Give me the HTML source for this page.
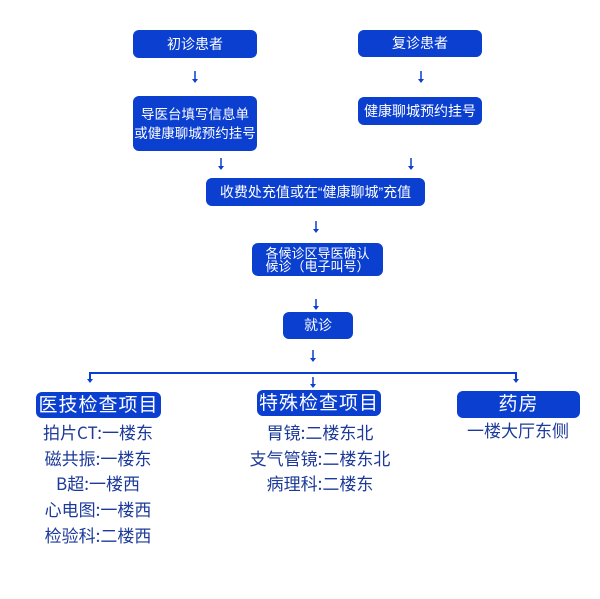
<!DOCTYPE html>
<html><head><meta charset="utf-8"><style>
body{margin:0;width:600px;height:599px;background:#fff;position:relative;overflow:hidden;font-family:"Liberation Sans","Noto Sans CJK SC",sans-serif}
.b{position:absolute;background:#0b3fd0;color:#fff;border-radius:6px;display:flex;align-items:center;justify-content:center;text-align:center;font-size:14px;line-height:17px;white-space:nowrap}
.h{font-size:19px;letter-spacing:1px}
.t{position:absolute;color:#1c3a9a;font-size:17px;text-align:center;line-height:25.7px;font-family:"Noto Sans CJK SC",sans-serif}
svg{position:absolute;left:0;top:0}
</style></head><body>
<svg width="600" height="599">
<g stroke="#0b3fd0" stroke-width="2" fill="none">
<path d="M90 380V373H516V380"/>
</g>
<g stroke="#0b3fd0" stroke-width="1.5">
<line x1="195" y1="71" x2="195" y2="81"/><line x1="421" y1="71" x2="421" y2="81"/>
<line x1="221" y1="158" x2="221" y2="168"/><line x1="411" y1="158" x2="411" y2="168"/>
<line x1="316" y1="221" x2="316" y2="231"/>
<line x1="316" y1="299" x2="316" y2="308"/>
<line x1="313" y1="350" x2="313" y2="360"/>
<line x1="313" y1="377" x2="313" y2="386"/>
</g>
<g fill="#0b3fd0">
<path d="M192 79h6l-3 4z"/><path d="M418 79h6l-3 4z"/>
<path d="M218 166h6l-3 4z"/><path d="M408 166h6l-3 4z"/>
<path d="M313 229h6l-3 4z"/><path d="M313 306h6l-3 4z"/>
<path d="M310 358h6l-3 4z"/><path d="M310 384h6l-3 4z"/>
<path d="M87 379h6l-3 4z"/><path d="M513 379h6l-3 4z"/>
</g>
</svg>
<div class="b" style="left:133px;top:30px;width:124px;height:28px">初诊患者</div>
<div class="b" style="left:358px;top:30px;width:124px;height:27px">复诊患者</div>
<div class="b" style="left:133px;top:96px;width:124px;height:55px;line-height:19px;font-size:13.5px">导医台填写信息单<br>或健康聊城预约挂号</div>
<div class="b" style="left:358px;top:97px;width:124px;height:28px">健康聊城预约挂号</div>
<div class="b" style="left:206px;top:178px;width:219px;height:28px">收费处充值或在“健康聊城”充值</div>
<div class="b" style="left:252px;top:243px;width:131px;height:33px;line-height:13px;font-size:13px">各候诊区导医确认<br>候诊（电子叫号）</div>
<div class="b" style="left:283px;top:312px;width:70px;height:27px">就诊</div>
<div class="b h" style="left:36px;top:392px;width:125px;height:26px">医技检查项目</div>
<div class="b h" style="left:257px;top:390px;width:124px;height:26px">特殊检查项目</div>
<div class="b h" style="left:457px;top:391px;width:123px;height:27px">药房</div>
<div class="t" style="left:30px;top:419px;width:136px">拍片CT:一楼东<br>磁共振:一楼东<br>B超:一楼西<br>心电图:一楼西<br>检验科:二楼西</div>
<div class="t" style="left:220px;top:419px;width:200px">胃镜:二楼东北<br>支气管镜:二楼东北<br>病理科:二楼东</div>
<div class="t" style="left:440px;top:417px;width:156px">一楼大厅东侧</div>
</body></html>
